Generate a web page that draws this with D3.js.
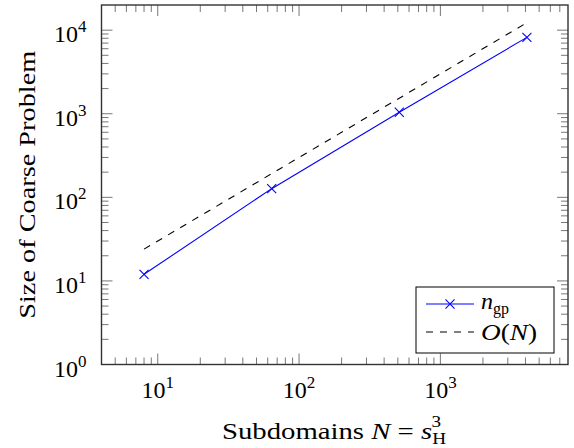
<!DOCTYPE html>
<html>
<head>
<meta charset="utf-8">
<script src="https://cdn.jsdelivr.net/npm/d3@7"></script>
<style>
  body { margin: 0; background: #fff; }
  svg { display: block; }
  text { font-family: "Liberation Serif", "DejaVu Serif", serif; fill: #000; }
</style>
</head>
<body>
<script>
// values
const subdomains = [8, 64, 512, 4096];
const coarseSize = [12, 127, 1042, 8200];
const orderN = [24, 192, 1536, 12288];
const xTicks = [10, 100, 1000];
const yTicks = [1, 10, 100, 1000, 10000];

const width = 574, height = 448;
const margin = {top: 5, left: 101.5, right: 6, bottom: 83.5};
const w = width - margin.left - margin.right;
const h = height - margin.top - margin.bottom;

const x = d3.scaleLog().domain([4, 8000]).range([0, w]);
const y = d3.scaleLog().domain([1, 20000]).range([h, 0]);

const svg = d3.select("body").append("svg")
  .attr("width", width)
  .attr("height", height);

const g = svg.append("g")
  .attr("transform", `translate(${margin.left}, ${margin.top})`);

// minor + major ticks, mirrored on all four sides
function logTicks(scale) {
  const [a, b] = scale.domain();
  const out = [];
  for (let e = Math.floor(Math.log10(a)); e <= Math.ceil(Math.log10(b)); e++) {
    for (let m = 1; m < 10; m++) {
      const v = m * Math.pow(10, e);
      if (v >= a * 0.999 && v <= b * 1.001) out.push({v: v, major: m === 1});
    }
  }
  return out;
}
const majorLen = 11, minorLen = 7;
const tickColor = "#777";

const xt = logTicks(x).filter(t => t.v > 4.01 && t.v < 7999);
const tg = g.append("g").attr("stroke", tickColor).attr("stroke-width", 1);
tg.selectAll(".xb").data(xt).enter().append("line")
  .attr("x1", d => x(d.v)).attr("x2", d => x(d.v))
  .attr("y1", h).attr("y2", d => h - (d.major ? majorLen : minorLen));
tg.selectAll(".xt").data(xt).enter().append("line")
  .attr("x1", d => x(d.v)).attr("x2", d => x(d.v))
  .attr("y1", 0).attr("y2", d => (d.major ? majorLen : minorLen));

const yt = logTicks(y).filter(t => t.v > 1.01 && t.v < 19999);
tg.selectAll(".yl").data(yt).enter().append("line")
  .attr("y1", d => y(d.v)).attr("y2", d => y(d.v))
  .attr("x1", 0).attr("x2", d => (d.major ? majorLen : minorLen));
tg.selectAll(".yr").data(yt).enter().append("line")
  .attr("y1", d => y(d.v)).attr("y2", d => y(d.v))
  .attr("x1", w).attr("x2", d => w - (d.major ? majorLen : minorLen));

// frame
g.append("rect")
  .attr("width", w).attr("height", h)
  .attr("fill", "none")
  .attr("stroke", "#333")
  .attr("stroke-width", 1.4);

// tick labels
function powLabel(sel, v) {
  sel.append("tspan").text("10");
  sel.append("tspan")
    .attr("dy", -10)
    .style("font-size", "17px")
    .text(Math.round(Math.log10(v)));
}

g.selectAll(".xlab").data(xTicks).enter().append("text")
  .attr("x", d => x(d))
  .attr("y", h + 33)
  .attr("text-anchor", "middle")
  .style("font-size", "24px")
  .each(function(d) { powLabel(d3.select(this), d); });

g.selectAll(".ylab").data(yTicks).enter().append("text")
  .attr("x", -15)
  .attr("y", d => y(d) + 12)
  .attr("text-anchor", "end")
  .style("font-size", "24px")
  .each(function(d) { powLabel(d3.select(this), d); });

// data lines
const line = d3.line()
  .x(d => x(d[0]))
  .y(d => y(d[1]));

g.append("path")
  .datum(subdomains.map((n, i) => [n, orderN[i]]))
  .attr("d", line)
  .attr("fill", "none")
  .attr("stroke", "#000")
  .attr("stroke-width", 1.1)
  .attr("stroke-dasharray", "7,7");

const blue = "#0000ff";
g.append("path")
  .datum(subdomains.map((n, i) => [n, coarseSize[i]]))
  .attr("d", line)
  .attr("fill", "none")
  .attr("stroke", blue)
  .attr("stroke-width", 1.1);

const cross = d3.symbol().type(d3.symbolX).size(55);
g.selectAll(".mark").data(subdomains).enter().append("path")
  .attr("transform", (d, i) => `translate(${x(d)}, ${y(coarseSize[i])})`)
  .attr("d", cross)
  .attr("fill", "none")
  .attr("stroke", blue)
  .attr("stroke-width", 1.1);

// axis titles
svg.append("text")
  .attr("x", 222)
  .attr("y", 439)
  .attr("textLength", 224)
  .attr("lengthAdjust", "spacingAndGlyphs")
  .style("font-size", "24px")
  .call(t => {
    t.append("tspan").text("Subdomains ");
    t.append("tspan").style("font-style", "italic").text("N");
    t.append("tspan").text(" = ");
    t.append("tspan").style("font-style", "italic").text("s");
    t.append("tspan").attr("dy", 5).style("font-size", "16px").text("H");
    t.append("tspan").attr("dx", -12).attr("dy", -17).style("font-size", "16px").text("3");
  });

svg.append("text")
  .attr("transform", `translate(35, ${margin.top + h / 2}) rotate(-90)`)
  .attr("text-anchor", "middle")
  .attr("textLength", 268)
  .attr("lengthAdjust", "spacingAndGlyphs")
  .style("font-size", "24px")
  .text("Size of Coarse Problem");

// legend
const leg = svg.append("g").attr("transform", "translate(416, 287)");
leg.append("rect")
  .attr("width", 138).attr("height", 66)
  .attr("fill", "#fff")
  .attr("stroke", "#000")
  .attr("stroke-width", 1);

leg.append("line")
  .attr("x1", 10).attr("x2", 58).attr("y1", 17).attr("y2", 17)
  .attr("stroke", blue).attr("stroke-width", 1.1);
leg.append("path")
  .attr("transform", "translate(34, 17)")
  .attr("d", cross)
  .attr("fill", "none").attr("stroke", blue).attr("stroke-width", 1.1);
leg.append("line")
  .attr("x1", 10).attr("x2", 58).attr("y1", 45).attr("y2", 45)
  .attr("stroke", "#000").attr("stroke-width", 1.1)
  .attr("stroke-dasharray", "7,7");

leg.append("text")
  .attr("x", 65).attr("y", 22)
  .style("font-size", "24px")
  .call(t => {
    t.append("tspan").style("font-style", "italic").text("n");
    t.append("tspan").attr("dy", 5).style("font-size", "16px").text("gp");
  });
leg.append("text")
  .attr("x", 65).attr("y", 53)
  .attr("textLength", 56)
  .attr("lengthAdjust", "spacingAndGlyphs")
  .style("font-size", "24px")
  .call(t => {
    t.append("tspan").style("font-style", "italic").text("O");
    t.append("tspan").text("(");
    t.append("tspan").style("font-style", "italic").text("N");
    t.append("tspan").text(")");
  });
</script>
</body>
</html>
